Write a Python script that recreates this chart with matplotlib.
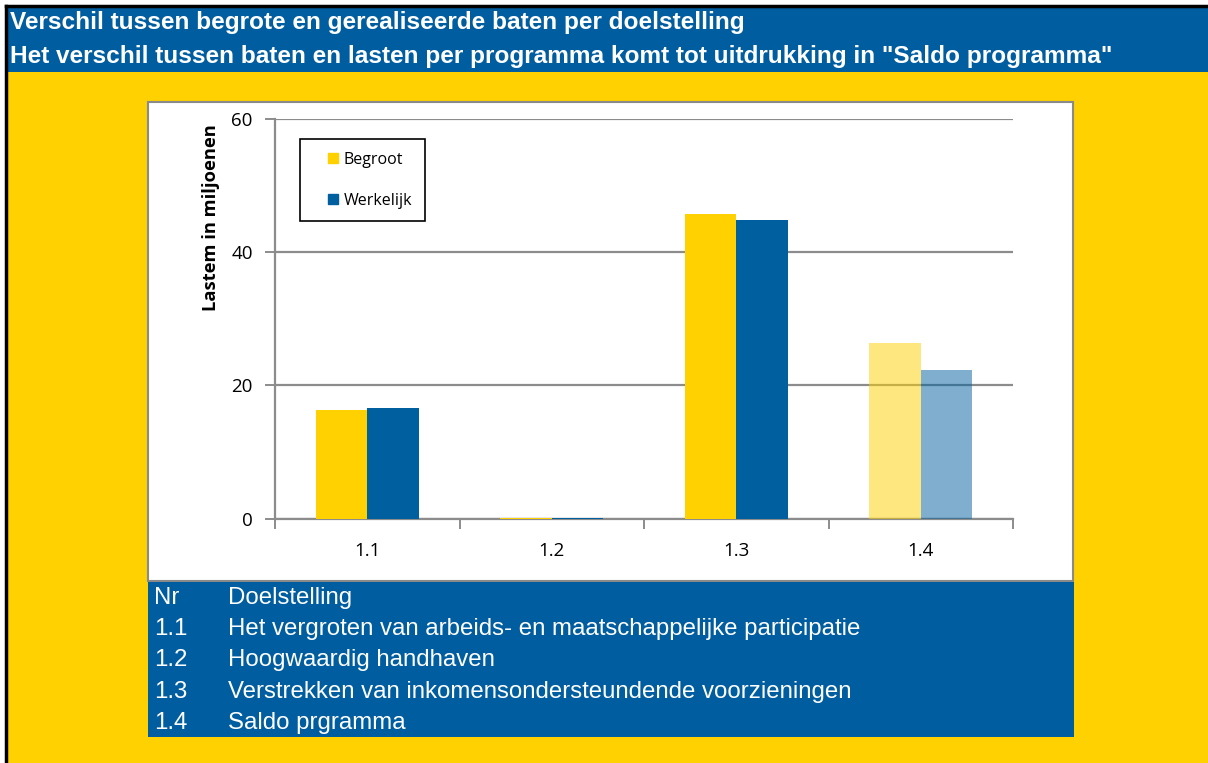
import matplotlib
matplotlib.use("Agg")
import matplotlib.pyplot as plt
from matplotlib.patches import Rectangle
from matplotlib.lines import Line2D
import numpy as np

categories = ["1.1", "1.2", "1.3", "1.4"]
begroot = [16.3, 0.15, 45.7, 26.3]
werkelijk = [16.6, 0.15, 44.8, 22.3]
alphas = [1.0, 1.0, 1.0, 0.5]
title_lines = ["Verschil tussen begrote en gerealiseerde baten per doelstelling",
               "Het verschil tussen baten en lasten per programma komt tot uitdrukking in \"Saldo programma\""]
table_nr = ["Nr", "1.1", "1.2", "1.3", "1.4"]
table_desc = ["Doelstelling",
              "Het vergroten van arbeids- en maatschappelijke participatie",
              "Hoogwaardig handhaven",
              "Verstrekken van inkomensondersteundende voorzieningen",
              "Saldo prgramma"]

YELLOW = "#FFD100"
BLUE = "#005F9F"
W, H = 1208, 763
fig = plt.figure(figsize=(W / 100, H / 100), dpi=100)
fig.patch.set_facecolor("white")

def fx(px):
    return px / W

def fy(py):
    return 1 - py / H

# background
fig.patches.append(Rectangle((fx(7), 0), 1, fy(7), transform=fig.transFigure,
                             facecolor=YELLOW, edgecolor="none", zorder=0))
fig.patches.append(Rectangle((fx(7), fy(72)), 1, fy(7) - fy(72), transform=fig.transFigure,
                             facecolor="#005DA0", edgecolor="none", zorder=1))
# black border left and top
fig.lines.append(plt.Line2D([fx(6), fx(6)], [0, fy(6)], transform=fig.transFigure, color="black", lw=2.5))
fig.lines.append(plt.Line2D([fx(6), 1], [fy(6), fy(6)], transform=fig.transFigure, color="black", lw=2.5))
# chart white area
fig.patches.append(Rectangle((fx(148), fy(581)), fx(1073) - fx(148), fy(102) - fy(581),
                             transform=fig.transFigure, facecolor="white", edgecolor="#8a8a8a",
                             lw=1.5, zorder=1))
# table blue area
fig.patches.append(Rectangle((fx(148), fy(737)), fx(1074) - fx(148), fy(582) - fy(737),
                             transform=fig.transFigure, facecolor="#005DA0", edgecolor="none", zorder=1))

for i, t in enumerate(title_lines):
    fig.text(fx(10), fy(23 + 33 * i), t, color="white", fontsize=17.6, fontweight="bold",
             family="Liberation Sans", va="center", ha="left")

for i, (n, d) in enumerate(zip(table_nr, table_desc)):
    y = fy(598 + 31.2 * i)
    fig.text(fx(154), y, n, color="white", fontsize=17.3, family="Liberation Sans", va="center")
    fig.text(fx(228), y, d, color="white", fontsize=17.3, family="Liberation Sans", va="center")

ax = fig.add_axes([fx(275), fy(518.5), fx(1013) - fx(275), fy(119) - fy(518.5)])
ax.set_zorder(5)
ax.set_facecolor("none")
x = np.arange(len(categories))
bw = 0.28
for i in range(len(categories)):
    ax.bar(x[i] - bw / 2, begroot[i], bw, color=YELLOW, alpha=alphas[i], zorder=3)
    ax.bar(x[i] + bw / 2, werkelijk[i], bw, color=BLUE, alpha=alphas[i], zorder=3)

ax.set_xlim(-0.5, 3.5)
ax.set_ylim(0, 60)
ax.set_yticks([0, 20, 40, 60])
ax.yaxis.grid(True, color="#8c8c8c", lw=1.6, zorder=1)
ax.set_axisbelow(True)
ax.set_xticks(x)
ax.set_xticklabels(categories)
ax.set_xticks(np.arange(-0.5, 4.0, 1.0), minor=True)
ax.tick_params(axis="x", which="major", length=0, pad=17, labelsize=13.5)
ax.tick_params(axis="x", which="minor", length=7, width=1.4, color="#8c8c8c", direction="out")
ax.tick_params(axis="y", length=7, width=1.4, color="#8c8c8c", labelsize=13.5, pad=9)
for lab in ax.get_xticklabels() + ax.get_yticklabels():
    lab.set_family("Open Sans")
for s in ["top", "right"]:
    ax.spines[s].set_visible(False)
for s in ["left", "bottom"]:
    ax.spines[s].set_color("#8c8c8c")
    ax.spines[s].set_linewidth(1.6)
ax.spines["bottom"].set_zorder(2)

ax.set_ylabel("Lastem in miljoenen", fontsize=13.2, fontweight="bold", family="Open Sans")
ax.yaxis.set_label_coords((220 - 275) / 738, (518.5 - 218) / 399.5)

handles = [Line2D([], [], marker="s", ls="none", color=YELLOW, markersize=7.5),
           Line2D([], [], marker="s", ls="none", color=BLUE, markersize=7.5)]
leg = ax.legend(handles, ["Begroot", "Werkelijk"], loc="upper left",
                bbox_to_anchor=((300 - 275) / 738, (518.5 - 139) / 399.5),
                frameon=True, fancybox=False, edgecolor="black", framealpha=1,
                prop={"family": "Open Sans", "size": 11.5}, handlelength=2.5, numpoints=1,
                handletextpad=-0.55, labelspacing=1.55, borderpad=0.8, borderaxespad=0)
leg.get_frame().set_linewidth(1.2)

fig.savefig("out.png", dpi=100)
